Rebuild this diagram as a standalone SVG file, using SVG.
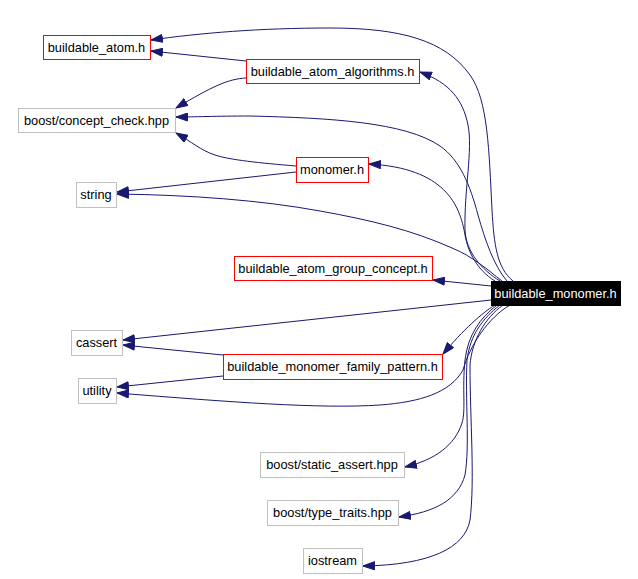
<svg xmlns="http://www.w3.org/2000/svg" width="638" height="579" viewBox="0 0 638 579">
<style>
.n rect{fill:#fff;stroke-width:1;shape-rendering:crispEdges}
.red rect{stroke:#ff0000}
.gray rect{stroke:#bfbfbf}
.main rect{fill:#000;stroke:#000}
text{font-family:"Liberation Sans",Arial,sans-serif;font-size:12.8px;text-anchor:middle;fill:#000}
.main text{fill:#fff}
#edges path{fill:none;stroke:#191970;stroke-width:1;marker-end:url(#ah)}
</style>
<defs>
<marker id="ah" markerUnits="userSpaceOnUse" markerWidth="13" markerHeight="9" refX="12" refY="4.5" orient="auto">
<path d="M0.5,0.5 L12,4.5 L0.5,8.5 z" fill="#191970" stroke="#191970" stroke-width="1"/>
</marker>
</defs>
<rect width="638" height="579" fill="#fff"/>
<g id="edges">
<path d="M513,281 C497,268 494,245 492,210 C489,150 488,100 470,75 C445,40 400,28 330,28 C260,28 200,33 151,40"/>
<path d="M500,281 C482,270 466,252 465,230 C464,190 473,150 468,125 C463,100 450,83 420,72"/>
<path d="M507,281 C494,266 485,240 478,215 C470,185 460,160 440,146 C405,122 330,118 250,116 C215,116 195,117 176,117"/>
<path d="M246,61 L151,51"/>
<path d="M246,78 C228,79 213,86 176,108"/>
<path d="M296,166 C260,163 230,160 215,155 C200,150 192,142 176,133"/>
<path d="M296,172 L117,192"/>
<path d="M495,281 C477,270 468,252 465,235 C460,205 445,168 369,164"/>
<path d="M502,281 C488,270 472,256 452,248 C412,230 370,220 320,211 C260,200 190,195 117,194"/>
<path d="M491,286 L433,280"/>
<path d="M491,300 L123,340"/>
<path d="M495,305 C482,313 463,330 443,354"/>
<path d="M223,355 L123,345"/>
<path d="M223,376 L117,387"/>
<path d="M510,305 C488,318 470,345 463,370 C450,393 420,402 380,405 C320,409 230,402 117,393"/>
<path d="M497,305 C480,318 468,335 465,360 C462,390 466,410 462,423 C455,445 435,460 405,467"/>
<path d="M500,305 C483,318 470,335 467,360 C465,400 470,445 465,475 C458,500 435,512 399,517"/>
<path d="M503,305 C485,318 472,340 470,365 C470,420 475,480 470,520 C465,548 430,565 363,566"/>
</g>
<g id="buildable_monomer" class="n main"><rect x="491" y="281" width="129" height="24"/><text x="555.5" y="297.5">buildable_monomer.h</text></g>
<g id="buildable_atom" class="n red"><rect x="43" y="35" width="107" height="24"/><text x="96.5" y="51.5">buildable_atom.h</text></g>
<g id="buildable_atom_algorithms" class="n red"><rect x="246" y="59" width="173" height="24"/><text x="332.5" y="75.5">buildable_atom_algorithms.h</text></g>
<g id="concept_check" class="n gray"><rect x="18" y="108" width="157" height="24"/><text x="96.5" y="124.5">boost/concept_check.hpp</text></g>
<g id="monomer" class="n red"><rect x="296" y="157" width="72" height="25"/><text x="332" y="174">monomer.h</text></g>
<g id="string" class="n gray"><rect x="76" y="182" width="40" height="25"/><text x="96" y="199">string</text></g>
<g id="buildable_atom_group_concept" class="n red"><rect x="234" y="256" width="198" height="24"/><text x="333" y="272.5">buildable_atom_group_concept.h</text></g>
<g id="cassert" class="n gray"><rect x="71" y="330" width="51" height="25"/><text x="96.5" y="347">cassert</text></g>
<g id="buildable_monomer_family_pattern" class="n red"><rect x="223" y="354" width="219" height="25"/><text x="332.5" y="371">buildable_monomer_family_pattern.h</text></g>
<g id="utility" class="n gray"><rect x="78" y="378" width="38" height="25"/><text x="97" y="395">utility</text></g>
<g id="static_assert" class="n gray"><rect x="260" y="452" width="144" height="25"/><text x="332" y="469">boost/static_assert.hpp</text></g>
<g id="type_traits" class="n gray"><rect x="267" y="500" width="131" height="25"/><text x="332.5" y="517">boost/type_traits.hpp</text></g>
<g id="iostream" class="n gray"><rect x="303" y="548" width="59" height="25"/><text x="332.5" y="565">iostream</text></g>
</svg>
